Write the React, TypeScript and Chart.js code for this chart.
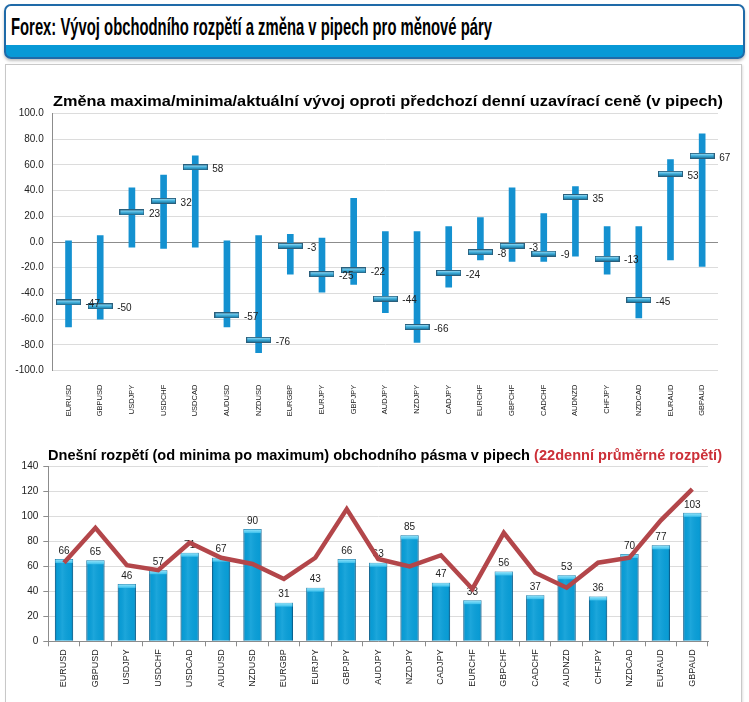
import React, { useEffect, useLayoutEffect, useRef } from "react";
import { Chart, registerables } from "chart.js";
Chart.register(...registerables);

const pairs = ["EURUSD","GBPUSD","USDJPY","USDCHF","USDCAD","AUDUSD","NZDUSD","EURGBP","EURJPY","GBPJPY","AUDJPY","NZDJPY","CADJPY","EURCHF","GBPCHF","CADCHF","AUDNZD","CHFJPY","NZDCAD","EURAUD","GBPAUD"];
const dayHigh = [1,5,42,52,67,1,5,6,3,34,8,8,12,19,42,22,43,12,12,64,84];
const dayLow = [-66,-60,-4,-5,-4,-66,-86,-25,-39,-33,-55,-78,-35,-14,-15,-15,-11,-25,-59,-14,-19];
const current = [-47,-50,23,32,58,-57,-76,-3,-25,-22,-44,-66,-24,-8,-3,-9,35,-13,-45,53,67];
const todayRange = [66,65,46,57,71,67,90,31,43,66,63,85,47,33,56,37,53,36,70,77,103];
const avg22Range = [63,91,61,57,79,67,62,50,67,106,66,60,69,42,87,55,43,63,67,97,122];

const FONT = '"Liberation Sans", Arial, sans-serif';

function makeMarker(): HTMLCanvasElement {
  const c = document.createElement("canvas");
  c.width = 25;
  c.height = 6;
  const g = c.getContext("2d")!;
  const grad = g.createLinearGradient(0, 0, 0, 6);
  grad.addColorStop(0, "#c4ecfa");
  grad.addColorStop(0.45, "#46b4e0");
  grad.addColorStop(1, "#0d6b96");
  g.fillStyle = grad;
  g.fillRect(0.5, 0.5, 24, 5);
  g.strokeStyle = "#2a5f7c";
  g.lineWidth = 1;
  g.strokeRect(0.5, 0.5, 24, 5);
  return c;
}

function FitText(props: { left: number; top: number; width: number; style: any; children: any }) {
  const ref = useRef<HTMLDivElement>(null);
  useLayoutEffect(() => {
    const el = ref.current!;
    el.style.transform = "none";
    const w = el.getBoundingClientRect().width;
    el.style.transform = `scaleX(${props.width / w})`;
  }, []);
  return (
    <div
      ref={ref}
      style={{ position: "absolute", left: props.left, top: props.top, whiteSpace: "nowrap", transformOrigin: "0 0", ...props.style }}
    >
      {props.children}
    </div>
  );
}

function TopChart() {
  const ref = useRef<HTMLCanvasElement>(null);
  useEffect(() => {
    const marker = makeMarker();
    const labelPlugin = {
      id: "curLabels",
      afterDatasetsDraw(chart: any) {
        const meta = chart.getDatasetMeta(0);
        const ctx = chart.ctx;
        ctx.save();
        ctx.font = `10px ${FONT}`;
        ctx.fillStyle = "#222";
        ctx.textAlign = "left";
        ctx.textBaseline = "middle";
        meta.data.forEach((p: any, i: number) => {
          ctx.fillText(String(current[i]), p.x + 17, p.y + 2);
        });
        ctx.restore();
      },
    };
    const chart = new Chart(ref.current!, {
      type: "bar",
      data: {
        labels: pairs,
        datasets: [
          {
            type: "line",
            data: current,
            showLine: false,
            pointStyle: marker as any,
            pointRadius: 12,
            order: 0,
          } as any,
          {
            type: "bar",
            data: dayLow.map((l, i) => [l, dayHigh[i]]),
            backgroundColor: "#1491d0",
            barThickness: 6,
            order: 1,
          } as any,
        ],
      },
      options: {
        animation: false,
        responsive: false,
        events: [],
        layout: { padding: { top: 18.3, left: 0, right: 31, bottom: 0 } },
        plugins: { legend: { display: false }, tooltip: { enabled: false }, title: { display: false } },
        scales: {
          x: {
            grid: { display: false },
            border: { display: false },
            ticks: {
              autoSkip: false,
              minRotation: 90,
              maxRotation: 90,
              padding: 6,
              color: "#222",
              font: { family: FONT, size: 7.5 },
            },
            afterFit(s: any) {
              s.height = 49.3;
            },
          },
          y: {
            min: -100,
            max: 100,
            ticks: {
              stepSize: 20,
              padding: 9,
              color: "#222",
              font: { family: FONT, size: 10 },
              callback: (v: any) => Number(v).toFixed(1),
            },
            grid: {
              drawTicks: false,
              color: (c: any) => (c.tick && c.tick.value === 0 ? "#8c8c8c" : "#dcdcdc"),
            },
            border: { display: true, color: "#8c8c8c" },
            afterFit(s: any) {
              s.width = 52.7;
            },
          },
        },
      } as any,
      plugins: [labelPlugin],
    });
    return () => chart.destroy();
  }, []);
  return <canvas ref={ref} width={749} height={325} style={{ position: "absolute", left: 0, top: 95 }} />;
}

function BottomChart() {
  const ref = useRef<HTMLCanvasElement>(null);
  useEffect(() => {
    const barPlugin = {
      id: "barDeco",
      afterDatasetDraw(chart: any, args: any) {
        if (args.index !== 1) return;
        const ctx = chart.ctx;
        const meta = chart.getDatasetMeta(1);
        ctx.save();
        meta.data.forEach((b: any, i: number) => {
          const left = b.x - b.width / 2;
          const w = b.width;
          const top = b.y;
          const h = b.base - b.y;
          const g = ctx.createLinearGradient(left, 0, left + w, 0);
          g.addColorStop(0, "rgba(0,50,90,0.28)");
          g.addColorStop(0.12, "rgba(0,50,90,0.03)");
          g.addColorStop(0.4, "rgba(255,255,255,0.08)");
          g.addColorStop(0.88, "rgba(0,50,90,0.03)");
          g.addColorStop(1, "rgba(0,50,90,0.28)");
          ctx.fillStyle = g;
          ctx.fillRect(left, top, w, h);
          const cg = ctx.createLinearGradient(0, top, 0, top + 4);
          cg.addColorStop(0, "#9be6fb");
          cg.addColorStop(1, "#3cc0ec");
          ctx.fillStyle = cg;
          ctx.fillRect(left + 0.5, top + 0.5, w - 1, 3.5);
          ctx.font = `10px ${FONT}`;
          ctx.fillStyle = "#222";
          ctx.textAlign = "center";
          ctx.textBaseline = "bottom";
          ctx.fillText(String(todayRange[i]), b.x, top - 3);
        });
        ctx.restore();
      },
    };
    const chart = new Chart(ref.current!, {
      type: "bar",
      data: {
        labels: pairs,
        datasets: [
          {
            type: "line",
            data: avg22Range,
            borderColor: "#b3464a",
            borderWidth: 4.5,
            pointRadius: 0,
            tension: 0,
            borderJoinStyle: "miter",
            order: 0,
          } as any,
          {
            type: "bar",
            data: todayRange,
            backgroundColor: "#0a9fd8",
            borderColor: "#0b6e9e",
            borderWidth: 1,
            categoryPercentage: 1,
            barPercentage: 0.58,
            order: 1,
          } as any,
        ],
      },
      options: {
        animation: false,
        responsive: false,
        events: [],
        layout: { padding: { top: 26.7, left: 0, right: 41, bottom: 0 } },
        plugins: { legend: { display: false }, tooltip: { enabled: false }, title: { display: false } },
        scales: {
          x: {
            grid: { drawOnChartArea: false, drawTicks: true, tickLength: 5, color: "#8c8c8c" },
            border: { display: true, color: "#8c8c8c" },
            ticks: {
              autoSkip: false,
              minRotation: 90,
              maxRotation: 90,
              padding: 3,
              color: "#222",
              font: { family: FONT, size: 9 },
            },
            afterFit(s: any) {
              s.height = 58.7;
            },
          },
          y: {
            min: 0,
            max: 140,
            ticks: {
              stepSize: 20,
              padding: 5,
              color: "#222",
              font: { family: FONT, size: 10 },
            },
            grid: { drawTicks: true, tickLength: 5, color: "#dcdcdc", tickColor: "#8c8c8c" },
            border: { display: true, color: "#8c8c8c" },
            afterFit(s: any) {
              s.width = 48.3;
            },
          },
        },
      } as any,
      plugins: [barPlugin],
    });
    return () => chart.destroy();
  }, []);
  return <canvas ref={ref} width={749} height={260} style={{ position: "absolute", left: 0, top: 440 }} />;
}

export default function App() {
  return (
    <div style={{ position: "absolute", left: 0, top: 0, width: 749, height: 702, background: "#fff", overflow: "hidden", fontFamily: FONT }}>
      <div
        style={{
          position: "absolute",
          left: 4,
          top: 4,
          width: 737,
          height: 51,
          border: "2px solid #1f6aa8",
          borderRadius: 7,
          overflow: "hidden",
          background: "linear-gradient(#ffffff 0, #ffffff 76%, #0899d6 76%, #0899d6 100%)",
          boxShadow: "0 2px 3px rgba(0,0,0,0.25)",
        }}
      />
      <FitText left={11} top={15} width={481} style={{ fontSize: 23, lineHeight: "25px", fontWeight: "bold", color: "#000" }}>
        Forex: Vývoj obchodního rozpětí a změna v pipech pro měnové páry
      </FitText>
      <div
        style={{
          position: "absolute",
          left: 5,
          top: 64,
          width: 735,
          height: 660,
          border: "1px solid #c8c8c8",
          boxShadow: "1px 1px 2px rgba(0,0,0,0.12)",
        }}
      />
      <TopChart />
      <BottomChart />
      <FitText left={53} top={93} width={670} style={{ fontSize: 14, lineHeight: "16px", fontWeight: "bold", color: "#000" }}>
        Změna maxima/minima/aktuální vývoj oproti předchozí denní uzavírací ceně (v pipech)
      </FitText>
      <FitText left={48} top={447} width={674} style={{ fontSize: 14, lineHeight: "16px", fontWeight: "bold", color: "#000" }}>
        Dnešní rozpětí (od minima po maximum) obchodního pásma v pipech{" "}
        <span style={{ color: "#cc3038" }}>(22denní průměrné rozpětí)</span>
      </FitText>
    </div>
  );
}
